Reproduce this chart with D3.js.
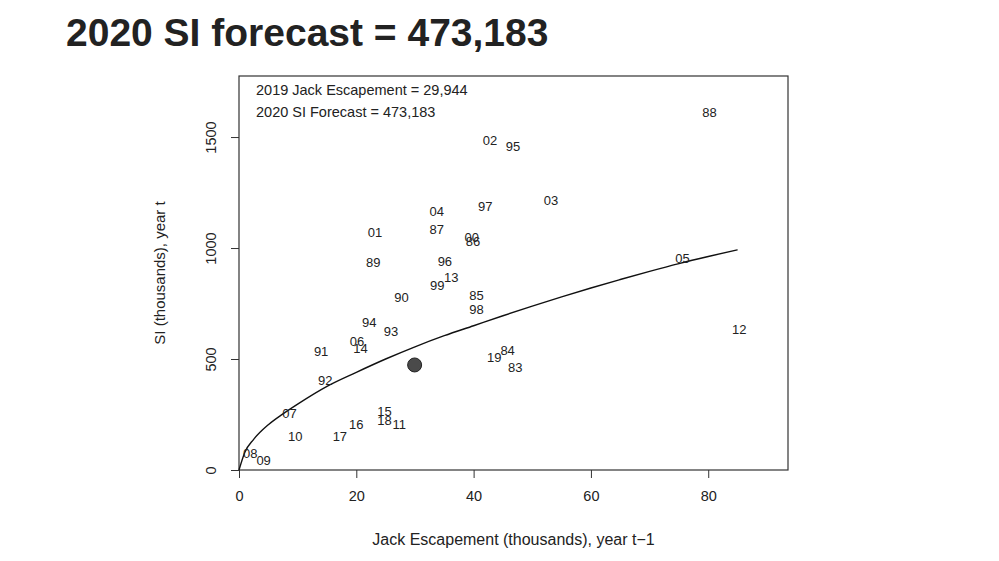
<!DOCTYPE html>
<html>
<head>
<meta charset="utf-8">
<script src="https://cdn.jsdelivr.net/npm/d3@7"></script>
<style>
  html, body { margin: 0; padding: 0; background: #fff; }
  svg { display: block; font-family: "Liberation Sans", Arial, sans-serif; }
</style>
</head>
<body>
<svg id="chart" width="999" height="561"></svg>
<script>
// ---- data (thousands) ----
const yearLabels = ["83","84","85","86","87","88","89","90","91","92","93","94","95","96","97","98","99","00","01","02","03","04","05","06","07","08","09","10","11","12","13","14","15","16","17","18","19"];
const jackEsc    = [47.1, 45.8, 40.5, 39.9, 33.7, 80.2, 22.9, 27.7, 14.0, 14.7, 25.9, 22.2, 46.7, 35.1, 42.0, 40.5, 33.8, 39.7, 23.2, 42.8, 53.2, 33.7, 75.6, 20.1, 8.6, 1.9, 4.2, 9.6, 27.3, 85.3, 36.2, 20.7, 24.8, 20.0, 17.2, 24.8, 43.5];
const siValues   = [464, 537, 788, 1028, 1085, 1612, 937, 778, 536, 401, 624, 665, 1459, 938, 1189, 721, 833, 1046, 1072, 1486, 1212, 1163, 955, 578, 255, 75, 45, 150, 206, 631, 869, 548, 263, 206, 149, 225, 506];

// fitted curve
const curveX = [0, 1, 2.5, 5, 7.5, 10, 15, 20, 25, 30, 35, 40, 45, 50, 55, 60, 65, 70, 75, 80, 85];
const curveY = [0, 80, 138, 204, 253, 297, 377, 440, 500, 555, 605, 650, 695, 738, 780, 820, 858, 895, 930, 962, 992];

// forecast point
const forecastX = [29.944];
const forecastY = [473.183];

const xTicks = [0, 20, 40, 60, 80];
const yTicks = [0, 500, 1000, 1500];
const xDomain = [0, 93.6];
const yDomain = [0, 1775];

const titleText = "2020 SI forecast = 473,183";
const noteLines = ["2019 Jack Escapement = 29,944", "2020 SI Forecast = 473,183"];
const xTitle = "Jack Escapement (thousands), year t\u22121";
const yTitle = "SI (thousands), year t";

// ---- layout ----
const box = { left: 239, right: 788, top: 76, bottom: 470 };
const svg = d3.select("#chart");
const ink = "#222";

const x = d3.scaleLinear().domain(xDomain).range([box.left, box.right]);
const y = d3.scaleLinear().domain(yDomain).range([box.bottom, box.top]);

// title
svg.append("text")
  .attr("x", 66).attr("y", 46)
  .attr("font-size", 39).attr("font-weight", "bold")
  .attr("fill", ink)
  .text(titleText);

// box
svg.append("rect")
  .attr("x", box.left).attr("y", box.top)
  .attr("width", box.right - box.left).attr("height", box.bottom - box.top)
  .attr("fill", "none").attr("stroke", "#333").attr("stroke-width", 1.2);

// axes
const xAxis = d3.axisBottom(x).tickValues(xTicks).tickSize(8).tickPadding(13).tickFormat(d3.format("d"));
const gx = svg.append("g").attr("transform", `translate(0,${box.bottom})`).call(xAxis);
gx.select(".domain").remove();
gx.selectAll("line").attr("stroke", "#333");
gx.selectAll("text").attr("font-size", 14.5).attr("fill", ink).attr("font-family", "Liberation Sans, Arial, sans-serif");

const yAxis = d3.axisLeft(y).tickValues(yTicks).tickSize(8).tickFormat(d3.format("d"));
const gy = svg.append("g").attr("transform", `translate(${box.left},0)`).call(yAxis);
gy.select(".domain").remove();
gy.selectAll("line").attr("stroke", "#333");
gy.selectAll("text")
  .attr("font-size", 14.5).attr("fill", ink)
  .attr("font-family", "Liberation Sans, Arial, sans-serif")
  .attr("x", null).attr("dy", null)
  .attr("text-anchor", "middle")
  .attr("transform", "translate(-23,0) rotate(-90)");

// axis titles
svg.append("text")
  .attr("x", (box.left + box.right) / 2).attr("y", 545)
  .attr("text-anchor", "middle").attr("font-size", 16).attr("fill", ink)
  .text(xTitle);
svg.append("text")
  .attr("transform", `translate(165,${(box.top + box.bottom) / 2}) rotate(-90)`)
  .attr("text-anchor", "middle").attr("font-size", 15).attr("fill", ink)
  .text(yTitle);

// annotation
svg.selectAll("text.note").data(noteLines).join("text")
  .attr("class", "note")
  .attr("x", 256).attr("y", (d, i) => 95 + i * 21.5)
  .attr("font-size", 14.5).attr("fill", ink)
  .text(d => d);

// fitted curve
const curveData = curveX.map((v, i) => [v, curveY[i]]);
svg.append("path")
  .datum(curveData)
  .attr("fill", "none").attr("stroke", "#111").attr("stroke-width", 1.4)
  .attr("d", d3.line().x(d => x(d[0])).y(d => y(d[1])).curve(d3.curveMonotoneX));

// year labels
const pts = yearLabels.map((lab, i) => ({ lab, xv: jackEsc[i], yv: siValues[i] }));
svg.selectAll("text.pt").data(pts).join("text")
  .attr("class", "pt")
  .attr("x", d => x(d.xv)).attr("y", d => y(d.yv))
  .attr("text-anchor", "middle").attr("dominant-baseline", "central")
  .attr("font-size", 13).attr("fill", ink)
  .text(d => d.lab);

// forecast dot
svg.selectAll("circle.fc").data(forecastX.map((v, i) => [v, forecastY[i]])).join("circle")
  .attr("class", "fc")
  .attr("cx", d => x(d[0])).attr("cy", d => y(d[1]))
  .attr("r", 7)
  .attr("fill", "#4a4a4a").attr("stroke", "#222").attr("stroke-width", 1);
</script>
</body>
</html>
